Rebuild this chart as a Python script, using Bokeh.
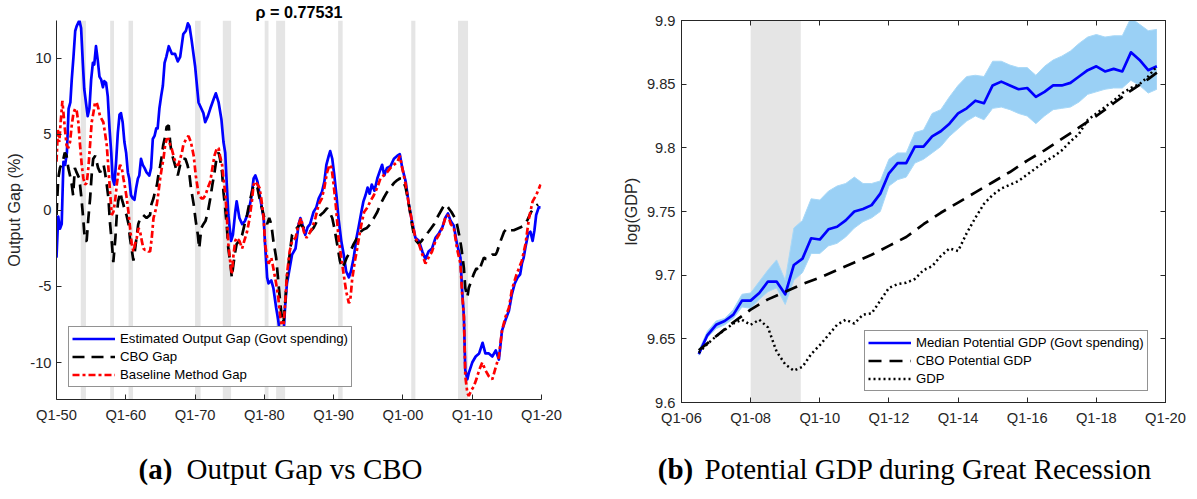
from bokeh.plotting import figure
from bokeh.models import (Range1d, FixedTicker, LinearAxis, BoxAnnotation,
                          Legend, LegendItem)
from bokeh.layouts import column, row
from bokeh.embed import file_html
from bokeh.resources import INLINE
from bokeh.core.properties import value

# ---------------- data: panel (a) ----------------
est_years = [1950.0, 1950.25, 1950.5, 1950.75, 1951.0, 1951.25, 1951.5, 1951.75, 1952.0, 1952.2, 1952.45,
             1952.7, 1952.9, 1953.3, 1953.55, 1953.8, 1954.0, 1954.25, 1954.5, 1954.75, 1955.0, 1955.25,
             1955.45, 1955.7, 1955.95, 1956.2, 1956.45, 1956.7, 1956.9, 1957.15, 1957.4, 1957.65, 1957.9,
             1958.1, 1958.35, 1958.6, 1958.85, 1959.1, 1959.3, 1959.55, 1959.8, 1960.05, 1960.3, 1960.5,
             1960.75, 1961.0, 1961.25, 1961.5, 1961.75, 1961.95, 1962.2, 1962.45, 1962.7, 1963.0, 1963.4,
             1963.65, 1963.9, 1964.15, 1964.4, 1964.6, 1964.85, 1965.1, 1965.35, 1965.6, 1965.85, 1966.2,
             1966.65, 1967.1, 1967.5, 1967.85, 1968.3, 1968.67, 1968.96, 1969.2, 1969.5, 1970.0, 1970.5,
             1970.9, 1971.2, 1971.46, 1971.85, 1972.2, 1972.66, 1973.0, 1973.4, 1973.8, 1974.1, 1974.35,
             1974.6, 1974.8, 1975.2, 1975.46, 1975.8, 1976.0, 1976.4, 1976.8, 1977.2, 1977.7, 1978.1,
             1978.45, 1978.7, 1979.0, 1979.4, 1979.9, 1980.1, 1980.4, 1980.6, 1981.0, 1981.3, 1981.7,
             1982.0, 1982.3, 1982.55, 1982.8, 1983.0, 1983.26, 1983.5, 1984.0, 1984.5, 1984.95, 1985.2,
             1985.6, 1985.9, 1986.25, 1986.6, 1987.1, 1987.5, 1987.85, 1988.3, 1988.66, 1988.95, 1989.3,
             1989.5, 1989.8, 1990.1, 1990.4, 1990.7, 1991.1, 1991.45, 1991.8, 1992.2, 1992.5, 1992.9,
             1993.3, 1993.6, 1994.0, 1994.3, 1994.6, 1994.9, 1995.2, 1995.5, 1995.9, 1996.3, 1996.6,
             1997.0, 1997.3, 1997.7, 1998.2, 1998.7, 1999.2, 1999.55, 1999.9, 2000.4, 2000.85, 2001.3,
             2001.8, 2002.3, 2002.8, 2003.25, 2003.7, 2004.2, 2004.7, 2005.2, 2005.7, 2006.1, 2006.5,
             2006.9, 2007.35, 2007.8, 2008.3, 2008.55, 2008.8, 2009.0, 2009.3, 2009.5, 2010.0, 2010.5,
             2011.0, 2011.5, 2011.9, 2012.4, 2012.9, 2013.4, 2013.85, 2014.3, 2014.8, 2015.3, 2015.73,
             2016.14, 2016.56, 2016.92, 2017.17, 2017.43, 2017.69, 2018.1, 2018.4, 2018.72, 2018.98,
             2019.23, 2019.6, 2019.86]
est_gap = [-3.1, -0.4, -1.2, -0.9, 3.2, 3.0, 3.8, 6.7, 7.1, 8.6, 10.1,
           11.8, 12.1, 12.5, 12.0, 9.7, 8.0, 7.1, 6.2, 6.7, 8.6, 9.7,
           9.6, 10.8, 9.9, 8.8, 8.6, 8.1, 8.5, 8.4, 7.5, 5.4, 3.8,
           2.1, 1.7, 3.2, 5.1, 6.3, 6.4, 5.8, 4.5, 3.8, 2.5, 2.1,
           1.0, 0.8, 0.7, 1.5, 2.1, 2.3, 3.4, 3.0, 2.8, 2.5, 2.3,
           2.8, 4.7, 4.9, 5.4, 5.4, 6.7, 7.5, 8.2, 9.7, 10.1, 10.8,
           10.3, 10.3, 9.8, 10.1, 11.6, 11.8, 12.3, 12.1, 11.2, 9.5, 7.1,
           6.7, 6.4, 5.8, 6.2, 6.7, 7.3, 7.7, 7.1, 6.0, 4.5, 3.8,
           1.5, -0.3, -2.0, -1.6, -0.1, 0.6, -0.5, -0.9, -0.7, -0.1, 0.8,
           2.1, 2.3, 1.9, 0.8, -0.5, -2.2, -4.4, -4.8, -4.6, -5.1, -6.4,
           -7.2, -8.3, -9.5, -7.9, -6.3, -4.8, -4.2, -2.9, -2.5, -0.9, -0.5,
           -1.1, -1.6, -1.1, -0.9, -0.1, 0.2, 0.8, 1.2, 1.9, 3.0, 3.6,
           3.9, 3.4, 2.3, 1.0, -0.5, -2.0, -2.9, -4.0, -4.4, -4.0, -3.1,
           -1.8, -1.1, -0.1, 0.6, 1.0, 1.5, 1.1, 1.7, 1.3, 2.1, 2.5,
           3.0, 2.3, 2.8, 2.9, 3.4, 3.6, 3.7, 2.8, 1.9, 0.4, -0.7,
           -1.8, -2.0, -2.7, -3.2, -2.7, -2.5, -1.8, -1.5, -1.1, -0.5, -0.2,
           -0.7, -1.0, -2.2, -3.1, -5.3, -7.0, -10.5, -11.1, -10.7, -10.0, -9.6,
           -9.4, -8.7, -9.4, -9.4, -9.6, -9.2, -9.8, -7.9, -7.2, -6.6, -5.5,
           -4.8, -4.4, -4.2, -3.5, -3.1, -2.4, -1.5, -1.4, -2.0, -1.3,
           -0.3, 0.2, 0.2]

cbo_years = [1950.0, 1950.25, 1950.5, 1950.9, 1951.2, 1951.45, 1951.7, 1951.95, 1952.2, 1952.4, 1952.65,
             1952.9, 1953.3, 1953.6, 1953.85, 1954.1, 1954.35, 1954.6, 1954.85, 1955.1, 1955.3, 1955.6,
             1955.8, 1956.0, 1956.3, 1956.5, 1956.8, 1957.0, 1957.25, 1957.5, 1957.7, 1958.0, 1958.2,
             1958.5, 1958.7, 1958.9, 1959.2, 1959.4, 1959.65, 1959.9, 1960.1, 1960.4, 1960.6, 1960.9,
             1961.1, 1961.3, 1961.6, 1961.8, 1962.1, 1962.5, 1963.0, 1963.5, 1963.7, 1964.0, 1964.2,
             1964.5, 1964.7, 1965.0, 1965.2, 1965.4, 1965.7, 1965.9, 1966.2, 1966.4, 1966.6, 1967.1,
             1967.5, 1967.85, 1968.2, 1968.6, 1968.9, 1969.15, 1969.4, 1969.8, 1970.1, 1970.4, 1970.6,
             1970.9, 1971.2, 1971.5, 1971.85, 1972.2, 1972.5, 1972.8, 1973.15, 1973.4, 1973.6, 1973.9,
             1974.1, 1974.35, 1974.6, 1974.8, 1975.1, 1975.3, 1975.55, 1975.8, 1976.0, 1976.4, 1976.8,
             1977.15, 1977.5, 1977.8, 1978.1, 1978.45, 1978.7, 1979.0, 1979.3, 1979.65, 1980.0, 1980.4,
             1980.7, 1981.0, 1981.3, 1981.7, 1982.0, 1982.3, 1982.6, 1982.8, 1983.0, 1983.26, 1983.65,
             1984.0, 1984.3, 1984.7, 1985.2, 1985.7, 1986.15, 1986.6, 1987.1, 1987.6, 1988.1, 1988.6,
             1989.05, 1989.4, 1989.8, 1990.1, 1990.5, 1990.9, 1991.2, 1991.55, 1991.9, 1992.4, 1992.9,
             1993.4, 1993.9, 1994.3, 1994.8, 1995.3, 1995.8, 1996.3, 1996.75, 1997.2, 1997.7, 1998.2,
             1998.7, 1999.2, 1999.55, 1999.9, 2000.4, 2000.85, 2001.3, 2001.6, 2001.9, 2002.3, 2002.7,
             2003.0, 2003.35, 2003.7, 2004.1, 2004.5, 2004.9, 2005.4, 2005.9, 2006.2, 2006.6, 2007.0,
             2007.5, 2007.8, 2008.2, 2008.45, 2008.8, 2009.0, 2009.3, 2009.5, 2009.9, 2010.2, 2010.6,
             2011.0, 2011.35, 2011.7, 2012.0, 2012.4, 2012.9, 2013.4, 2013.6, 2014.1, 2014.6, 2015.05,
             2015.5, 2016.0, 2016.5, 2017.0, 2017.5, 2018.0, 2018.5, 2019.0, 2019.5]
cbo_gap = [-0.3, 2.1, 2.8, 3.2, 3.8, 3.6, 2.8, 2.3, 1.7, 1.0, 2.8,
           2.5, 2.1, 0.8, -0.5, -2.0, -2.0, -0.5, 0.8, 2.5, 3.4, 3.6,
           3.2, 2.8, 2.5, 2.8, 3.0, 2.5, 1.7, 0.8, -0.7, -2.2, -3.4,
           -1.8, -0.3, 0.6, 1.2, 0.8, 0.4, -0.1, -0.3, -0.9, -1.8, -2.7,
           -3.3, -2.7, -1.6, -0.9, -0.5, -0.3, -0.5, -0.3, 0.4, 0.8, 1.2,
           1.7, 2.3, 3.0, 3.6, 4.3, 4.9, 5.5, 5.6, 4.5, 3.8, 3.0,
           2.3, 3.0, 3.4, 3.4, 3.0, 2.5, 1.5, 0.4, -0.7, -1.6, -2.5,
           -1.15, -0.9, -0.7, -0.1, 0.8, 1.7, 2.5, 3.6, 3.8, 3.4, 2.5,
           1.2, 0.15, -1.15, -2.5, -3.5, -4.4, -3.5, -2.7, -2.2, -2.0, -1.6,
           -0.9, -0.3, 0.4, 1.0, 1.7, 1.7, 1.5, 0.8, 0.15, -0.5, -0.9,
           -0.5, -0.9, -2.0, -3.1, -4.6, -6.1, -7.4, -7.2, -6.1, -4.4, -2.9,
           -1.6, -1.4, -1.15, -0.9, -1.15, -1.4, -1.4, -1.15, -0.7, -0.3, -0.1,
           0.15, -0.1, -0.5, -1.15, -2.2, -3.3, -3.8, -3.5, -3.1, -2.7, -2.2,
           -1.8, -1.4, -1.25, -1.15, -0.9, -0.5, -0.1, 0.4, 0.8, 1.2, 1.5,
           1.8, 2.0, 2.1, 2.1, 1.5, 0.4, -0.9, -1.6, -2.0, -2.2, -2.0,
           -1.8, -1.6, -1.4, -1.15, -0.9, -0.5, -0.1, 0.3, 0.4, 0.15, -0.1,
           -0.5, -0.9, -1.8, -2.5, -3.8, -5.1, -5.7, -5.1, -4.6, -4.2, -3.8,
           -4.0, -3.5, -3.1, -3.2, -3.1, -2.9, -2.9, -2.7, -2.0, -1.4, -1.15,
           -1.3, -1.3, -1.2, -1.1, -1.0, -0.6, -0.1, 0.2, 0.4]

base_years = [1950.0, 1950.2, 1950.4, 1950.6, 1950.85, 1951.2, 1951.45, 1951.7, 1951.95, 1952.2, 1952.45,
              1952.7, 1952.9, 1953.15, 1953.4, 1953.64, 1953.88, 1954.12, 1954.36, 1954.6, 1954.84, 1955.08,
              1955.32, 1955.56, 1955.8, 1956.05, 1956.28, 1956.52, 1956.76, 1957.0, 1957.25, 1957.49, 1957.73,
              1957.97, 1958.21, 1958.45, 1958.7, 1958.94, 1959.18, 1959.42, 1959.66, 1959.9, 1960.14, 1960.38,
              1960.62, 1960.86, 1961.1, 1961.34, 1961.58, 1961.83, 1962.07, 1962.31, 1962.55, 1962.79, 1963.03,
              1963.27, 1963.51, 1963.75, 1964.0, 1964.24, 1964.48, 1964.72, 1964.96, 1965.2, 1965.44, 1965.68,
              1965.92, 1966.2, 1966.4, 1966.6, 1967.0, 1967.4, 1967.6, 1967.85, 1968.1, 1968.3, 1968.7,
              1969.05, 1969.4, 1969.8, 1970.1, 1970.5, 1970.9, 1971.2, 1971.5, 1971.85, 1972.2, 1972.5,
              1972.8, 1973.15, 1973.4, 1973.6, 1973.9, 1974.1, 1974.35, 1974.6, 1974.8, 1975.1, 1975.3,
              1975.55, 1975.8, 1976.0, 1976.4, 1976.8, 1977.1, 1977.5, 1977.8, 1978.2, 1978.45, 1978.7,
              1979.0, 1979.3, 1979.55, 1979.9, 1980.1, 1980.4, 1980.6, 1981.0, 1981.3, 1981.7, 1982.0,
              1982.3, 1982.6, 1982.8, 1983.0, 1983.26, 1983.65, 1984.0, 1984.5, 1984.95, 1985.3, 1985.7,
              1986.1, 1986.4, 1986.9, 1987.36, 1987.85, 1988.3, 1988.66, 1989.05, 1989.4, 1989.7, 1990.0,
              1990.35, 1990.7, 1991.1, 1991.45, 1991.8, 1992.2, 1992.4, 1992.66, 1993.0, 1993.4, 1993.8,
              1994.1, 1994.4, 1994.8, 1995.3, 1995.8, 1996.3, 1996.75, 1997.2, 1997.7, 1998.2, 1998.7,
              1999.2, 1999.55, 1999.9, 2000.4, 2000.85, 2001.3, 2001.8, 2002.3, 2002.8, 2003.25, 2003.7,
              2004.2, 2004.7, 2005.2, 2005.7, 2006.1, 2006.5, 2006.9, 2007.35, 2007.8, 2008.3, 2008.55,
              2008.8, 2009.0, 2009.3, 2009.5, 2009.9, 2010.2, 2010.6, 2011.0, 2011.45, 2011.9, 2012.4,
              2012.9, 2013.4, 2013.85, 2014.3, 2014.8, 2015.3, 2015.73, 2016.4, 2017.17, 2017.69, 2018.2,
              2018.72, 2019.23, 2019.86]
base_gap = [3.2, 5.3, 4.5, 5.8, 7.2, 5.4, 4.3, 4.1, 4.5, 5.6, 6.4,
            6.7, 6.6, 5.8, 4.3, 3.0, 2.1, 1.7, 1.8, 2.8, 4.3, 5.8,
            6.4, 7.1, 7.1, 6.7, 6.2, 6.0, 5.8, 5.1, 4.3, 2.8, 1.2,
            -0.3, -0.1, 0.6, 1.7, 2.5, 3.0, 2.8, 2.1, 1.5, 0.8, -0.1,
            -1.15, -2.2, -2.7, -2.2, -1.8, -1.15, -1.4, -2.0, -2.5, -2.6, -2.6,
            -2.7, -2.7, -1.8, -0.5, -0.1, 0.4, 1.2, 2.1, 2.8, 3.4, 4.3,
            4.7, 4.7, 4.3, 4.1, 3.4, 3.0, 3.0, 3.4, 3.8, 4.3, 4.7,
            4.9, 4.5, 3.6, 2.3, 1.1, 0.8, 0.8, 1.0, 1.5, 1.9, 2.8,
            3.6, 4.1, 4.1, 3.6, 3.0, 2.1, 1.2, -0.5, -2.2, -3.5, -4.2,
            -2.9, -2.0, -1.8, -2.0, -2.5, -2.0, -1.4, -0.7, 0.6, 1.7, 1.9,
            1.7, 1.5, 0.8, -0.5, -2.2, -3.1, -3.5, -3.1, -3.8, -4.8, -5.7,
            -7.0, -7.9, -7.4, -6.1, -4.2, -2.7, -2.0, -1.8, -0.9, -0.5, -1.4,
            -1.8, -1.6, -1.15, -0.5, 0.4, 0.8, 1.5, 2.5, 3.0, 2.8, 1.7,
            0.15, -1.8, -3.1, -4.2, -5.3, -6.1, -5.9, -4.6, -3.5, -2.5, -1.4,
            -0.7, -0.1, 0.15, 0.6, 1.0, 1.5, 2.1, 2.3, 2.5, 2.8, 3.0,
            3.2, 3.6, 2.8, 1.7, 0.4, -0.7, -1.8, -2.2, -2.9, -3.5, -3.1,
            -2.7, -2.0, -1.6, -1.15, -0.5, -0.3, -0.9, -1.15, -2.5, -3.5, -5.5,
            -7.0, -10.9, -12.0, -12.2, -11.8, -11.6, -11.1, -10.5, -10.0, -10.5, -10.9,
            -11.1, -10.3, -9.6, -7.9, -7.0, -6.4, -5.2, -4.2, -3.3, -2.2, -0.5,
            0.6, 1.0, 1.7]

rec_start = [1953.5, 1957.75, 1960.4, 1970.0, 1974.0, 1980.05, 1981.7, 1990.65, 2001.2, 2007.95]
rec_end = [1954.25, 1958.3, 1961.05, 1970.8, 1975.2, 1980.6, 1983.0, 1991.3, 2001.8, 2009.4]

gap_ticks = [-10, -5, 0, 5, 10]
gap_tick_labels = ["-10", "-5", "0", "5", "10"]
decade_ticks = [1950, 1960, 1970, 1980, 1990, 2000, 2010, 2020]
decade_labels = ["Q1-50", "Q1-60", "Q1-70", "Q1-80", "Q1-90", "Q1-00", "Q1-10", "Q1-20"]
rho_text = "ρ = 0.77531"

# ---------------- data: panel (b) ----------------
q_dates = [2006.5 + 0.25 * i for i in range(54)]
median_pot = [9.638, 9.653, 9.661, 9.664, 9.669, 9.680, 9.680, 9.686, 9.695, 9.695,
              9.685, 9.708, 9.713, 9.729, 9.728, 9.736, 9.738, 9.743, 9.750, 9.752,
              9.755, 9.764, 9.780, 9.788, 9.788, 9.801, 9.801, 9.809, 9.813, 9.819,
              9.827, 9.831, 9.837, 9.835, 9.849, 9.852, 9.849, 9.846, 9.847, 9.840,
              9.844, 9.849, 9.849, 9.851, 9.856, 9.861, 9.864, 9.860, 9.862, 9.860,
              9.875, 9.869, 9.861, 9.864]
draws_upper = [9.641, 9.656, 9.664, 9.666, 9.673, 9.685, 9.686, 9.695, 9.704, 9.712,
               9.696, 9.737, 9.743, 9.760, 9.759, 9.766, 9.770, 9.772, 9.777, 9.772,
               9.772, 9.774, 9.791, 9.796, 9.796, 9.812, 9.814, 9.827, 9.830, 9.840,
               9.849, 9.856, 9.857, 9.856, 9.868, 9.868, 9.865, 9.863, 9.863, 9.857,
               9.864, 9.869, 9.872, 9.876, 9.882, 9.887, 9.889, 9.887, 9.888, 9.888,
               9.902, 9.897, 9.892, 9.893]
draws_lower = [9.637, 9.651, 9.658, 9.661, 9.666, 9.675, 9.674, 9.681, 9.687, 9.690,
               9.677, 9.696, 9.702, 9.717, 9.717, 9.723, 9.725, 9.730, 9.737, 9.742,
               9.745, 9.750, 9.770, 9.775, 9.777, 9.788, 9.791, 9.796, 9.801, 9.809,
               9.815, 9.821, 9.825, 9.822, 9.831, 9.832, 9.830, 9.827, 9.825, 9.819,
               9.825, 9.830, 9.831, 9.832, 9.836, 9.842, 9.844, 9.846, 9.847, 9.847,
               9.853, 9.849, 9.843, 9.846]
cbo_pot_dates = [2006.5, 2007.0, 2007.5, 2008.0, 2008.5, 2009.0, 2009.5, 2010.0, 2010.5, 2011.0,
                 2011.5, 2012.0, 2012.5, 2013.0, 2013.5, 2014.0, 2014.5, 2015.0, 2015.5, 2016.0,
                 2016.5, 2017.0, 2017.5, 2018.0, 2018.5, 2019.0, 2019.5, 2019.75]
cbo_pot = [9.641, 9.652, 9.663, 9.673, 9.681, 9.687, 9.693, 9.698, 9.704, 9.710,
           9.716, 9.723, 9.730, 9.740, 9.749, 9.757, 9.765, 9.773, 9.781, 9.790,
           9.798, 9.807, 9.816, 9.825, 9.835, 9.845, 9.854, 9.859]
gdp = [9.639, 9.646, 9.652, 9.657, 9.662, 9.665, 9.661, 9.665, 9.659, 9.640,
       9.630, 9.625, 9.628, 9.638, 9.645, 9.653, 9.661, 9.665, 9.662, 9.669,
       9.670, 9.680, 9.690, 9.693, 9.694, 9.697, 9.704, 9.707, 9.715, 9.721,
       9.719, 9.733, 9.745, 9.756, 9.763, 9.768, 9.771, 9.774, 9.779, 9.784,
       9.789, 9.793, 9.798, 9.805, 9.811, 9.822, 9.827, 9.832, 9.837, 9.843,
       9.847, 9.850, 9.856, 9.864]
gr_start = [2008.0]
gr_end = [2009.45]
gdp_ticks = [9.6, 9.65, 9.7, 9.75, 9.8, 9.85, 9.9]
gdp_tick_labels = ["9.6", "9.65", "9.7", "9.75", "9.8", "9.85", "9.9"]
year_ticks = [2006, 2008, 2010, 2012, 2014, 2016, 2018, 2020]
year_labels = ["Q1-06", "Q1-08", "Q1-10", "Q1-12", "Q1-14", "Q1-16", "Q1-18", "Q1-20"]

caption_tags = ["(a)", "(b)"]
caption_texts = ["Output Gap vs CBO", "Potential GDP during Great Recession"]

# ---------------- styling ----------------
AX = "#262626"
FONT = "Liberation Sans"
SERIF = "Liberation Serif"
SHADE = "#E5E5E5"
FAN = "#9AD0F5"
TICK_FS = "14.7px"
LAB_FS = "16.2px"
LEG_FS = "13.2px"


def style_axis(ax, ticks, labels, show_labels=True):
    ax.ticker = FixedTicker(ticks=ticks)
    ax.major_label_overrides = {t: l for t, l in zip(ticks, labels)}
    ax.axis_line_color = AX
    ax.axis_line_width = 1
    ax.major_tick_line_color = AX
    ax.major_tick_in = 5
    ax.major_tick_out = 0
    ax.minor_tick_line_color = None
    ax.major_label_text_font = FONT
    if show_labels:
        ax.major_label_text_color = AX
        ax.major_label_text_font_size = TICK_FS
        ax.major_label_standoff = 5
    else:
        ax.major_label_text_color = None
        ax.major_label_text_font_size = "1px"
        ax.major_label_standoff = 0
    ax.axis_label_text_font = FONT
    ax.axis_label_text_font_size = LAB_FS
    ax.axis_label_text_font_style = "normal"
    ax.axis_label_text_color = AX
    ax.axis_label_standoff = 4


def base_fig(**kw):
    p = figure(output_backend="svg", toolbar_location=None, **kw)
    p.xgrid.grid_line_color = None
    p.ygrid.grid_line_color = None
    p.background_fill_color = "white"
    p.border_fill_color = "white"
    return p


def make_legend(p, items, loc):
    leg = Legend(items=[LegendItem(label=l, renderers=[r]) for l, r in items], location=loc,
                 label_text_font=FONT, label_text_font_size=LEG_FS, label_text_color="black",
                 glyph_width=43, glyph_height=17, label_height=17, label_standoff=5,
                 spacing=1, padding=3, margin=0, border_line_color=AX, border_line_width=1,
                 background_fill_color="white", background_fill_alpha=1.0)
    p.add_layout(leg)


# ---------------- panel (a) ----------------
p1 = base_fig(width=608, height=433, title=rho_text,
              x_range=Range1d(1950, 2020), y_range=Range1d(-12.43, 12.49),
              min_border_left=56, min_border_right=67, min_border_top=17, min_border_bottom=33)
p1.title.align = "center"
p1.title.text_font = FONT
p1.title.text_font_size = LAB_FS
p1.title.text_font_style = "bold"
p1.title.text_color = "black"
p1.title.standoff = 0
p1.title.offset = 0
p1.outline_line_color = None
style_axis(p1.xaxis[0], decade_ticks, decade_labels)
p1.xaxis[0].major_label_standoff = 7
style_axis(p1.yaxis[0], gap_ticks, gap_tick_labels)
p1.yaxis[0].axis_label = "Output Gap (%)"
p1.yaxis[0].major_label_standoff = 5
p1.yaxis[0].axis_label_standoff = 4

for s, e in zip(rec_start, rec_end):
    p1.add_layout(BoxAnnotation(left=s, right=e, fill_color=SHADE, fill_alpha=1.0,
                                line_color=None, level="underlay"))

r_est = p1.line(est_years, est_gap, line_color="#0000FF", line_width=2.7, line_join="round")
r_cbo = p1.line(cbo_years, cbo_gap, line_color="black", line_width=2.7, line_dash="12 7")
r_base = p1.line(base_years, base_gap, line_color="#FF0000", line_width=2.7, line_dash="7 3 3 3")

make_legend(p1, [("Estimated Output Gap (Govt spending)", r_est), ("CBO Gap", r_cbo),
                 ("Baseline Method Gap", r_base)], (12, 12))

# ---------------- panel (b) ----------------
p2 = base_fig(frame_width=484, frame_height=382,
              x_range=Range1d(2006, 2020), y_range=Range1d(9.6, 9.9),
              min_border_left=73, min_border_right=24, min_border_top=17, min_border_bottom=34)
p2.outline_line_color = AX
style_axis(p2.xaxis[0], year_ticks, year_labels)
p2.xaxis[0].major_label_standoff = 7
style_axis(p2.yaxis[0], gdp_ticks, gdp_tick_labels)
p2.yaxis[0].axis_label = "log(GDP)"
p2.yaxis[0].major_label_standoff = 6
top_ax = LinearAxis()
style_axis(top_ax, year_ticks, year_labels, show_labels=False)
p2.add_layout(top_ax, "above")
right_ax = LinearAxis()
style_axis(right_ax, gdp_ticks, gdp_tick_labels, show_labels=False)
p2.add_layout(right_ax, "right")

for s, e in zip(gr_start, gr_end):
    p2.add_layout(BoxAnnotation(left=s, right=e, fill_color=SHADE, fill_alpha=1.0,
                                line_color=None, level="underlay"))

p2.varea(x=q_dates, y1=draws_lower, y2=draws_upper, fill_color=FAN, fill_alpha=1.0)
p2.line(q_dates, draws_upper, line_color="#A8D8F7", line_width=1)
p2.line(q_dates, draws_lower, line_color="#A8D8F7", line_width=1)
r_med = p2.line(q_dates, median_pot, line_color="#0000FF", line_width=2.7, line_join="round")
r_cpot = p2.line(cbo_pot_dates, cbo_pot, line_color="black", line_width=2.7, line_dash="13 8")
r_gdp = p2.line(q_dates, gdp, line_color="black", line_width=2.5, line_dash="2 3")

make_legend(p2, [("Median Potential GDP (Govt spending)", r_med), ("CBO Potential GDP", r_cpot),
                 ("GDP", r_gdp)], (183, 11))

# ---------------- captions (layout positions in page pixels) ----------------
CAP_W, CAP_H, CAP_TOP = 1189, 58, 433
p3 = base_fig(width=CAP_W, height=CAP_H, x_range=Range1d(0, CAP_W), y_range=Range1d(CAP_H, 0),
              min_border=0)
p3.outline_line_color = None
p3.axis.visible = False
cap_fs = "29px"
tag_centers = [155, 675]
text_starts = [186, 704]
cap_base = 468
for tag, txt, tc, ts in zip(caption_tags, caption_texts, tag_centers, text_starts):
    p3.text(x=[tc], y=[cap_base - CAP_TOP], text=[tag], text_font=value(SERIF),
            text_font_size=cap_fs, text_font_style="bold", text_color="black",
            text_align="center", text_baseline="alphabetic")
    p3.text(x=[ts], y=[cap_base - CAP_TOP], text=[txt], text_font=value(SERIF),
            text_font_size=cap_fs, text_color="black", text_align="left",
            text_baseline="alphabetic")

layout = column(row(p1, p2), p3)
open("out.html", "w").write(file_html(layout, INLINE))
